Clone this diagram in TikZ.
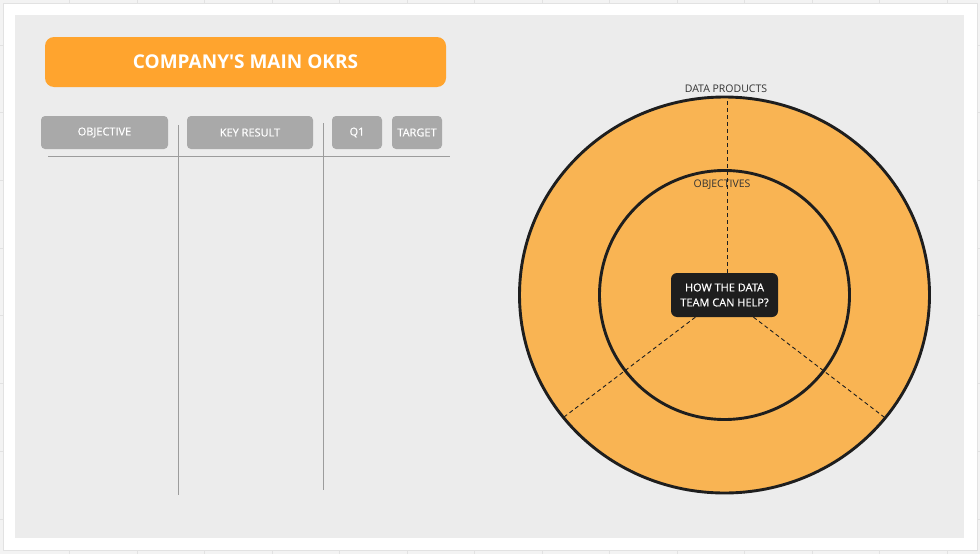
\documentclass[tikz,border=0pt]{standalone}
\usepackage{fontspec}
\setmainfont{Open Sans}
\newfontface\headfont{Open Sans}[FakeBold=0.7]
\usepackage{xcolor}
\usepackage{tikz}

\definecolor{sheetgrey}{HTML}{F3F3F3}
\definecolor{gridgrey}{HTML}{E2E2E2}
\definecolor{panelgrey}{HTML}{ECECEC}
\definecolor{titleorange}{HTML}{FFA42E}
\definecolor{headgrey}{HTML}{A9A9A9}
\definecolor{rulegrey}{HTML}{9C9C9C}
\definecolor{ringorange}{HTML}{F9B453}
\definecolor{ringline}{HTML}{1E1E1E}
\definecolor{labelgrey}{HTML}{333333}

\begin{document}
\begin{tikzpicture}[x=1pt,y=-1pt,
		headbox/.style={fill=headgrey, rounded corners=4pt, minimum height=33pt, inner sep=0pt, text=white, font=\headfont\fontsize{11}{13}\selectfont},
		ringlabel/.style={text=labelgrey, font=\fontsize{10.5}{12}\selectfont},
		tablerule/.style={draw=rulegrey, line width=0.8pt},
		spoke/.style={draw=ringline, line width=0.9pt, dash pattern=on 4pt off 3pt}]
		\useasboundingbox (0,0) rectangle (980,554);
		% sheet and frame
		\fill[sheetgrey] (0,0) rectangle (980,554);
		\foreach \i in {1,...,14} \draw[gridgrey, line width=0.8pt] ({2+67.5*\i},0) -- ++(0,554);
		\foreach \j in {0,...,7} \draw[gridgrey, line width=0.8pt] (0,{45+67.7*\j}) -- ++(980,0);
		\draw[fill=white, draw=gridgrey] (3,3) rectangle (977,550);
		\fill[panelgrey] (15,15) rectangle (964,538);
		% title and table
		\node[fill=titleorange, rounded corners=9pt, minimum width=401pt, minimum height=50pt, text=white, font=\fontsize{19}{22}\bfseries] (title) at (245.5,62) {COMPANY\textquotesingle S MAIN OKRS};
		\node[headbox, minimum width=127pt] (objective) at (104.5,132.5) {OBJECTIVE};
		\node[headbox, minimum width=126pt] (keyresult) at (250,132.5) {KEY RESULT};
		\node[headbox, minimum width=50pt] (quarter) at (357,132.5) {Q1};
		\node[headbox, minimum width=50pt] (target) at (417,132.5) {TARGET};
		\draw[tablerule] (48,156) -- (450,156);
		\draw[tablerule] (178,125) -- (178,495);
		\draw[tablerule] (323,123) -- (323,490);
		% rings
		\draw[fill=ringorange, draw=ringline, line width=2.9pt] (724.5,295) ellipse [x radius=205, y radius=198];
		\draw[draw=ringline, line width=2.9pt] (724.5,295) ellipse [x radius=125, y radius=124.5];
		\node[ringlabel, anchor=base] (products) at (726,92) {DATA PRODUCTS};
		\node[ringlabel, anchor=base] (objectives) at (722,187) {OBJECTIVES};
		\node[fill=ringline, rounded corners=6pt, minimum width=107pt, minimum height=44pt, inner sep=0pt, text=white, align=center, font=\headfont\fontsize{11}{15}\selectfont] (help) at (724.5,295) {HOW THE DATA\\TEAM CAN HELP?};
		\coordinate (top) at (727,97);
		\coordinate (left) at (564,417);
		\coordinate (right) at (884,417);
		\draw[spoke] (help.north -| top) -- (top);
		\draw[spoke] (help) -- (left);
		\draw[spoke] (help) -- (right);
	\end{tikzpicture}
\end{document}
